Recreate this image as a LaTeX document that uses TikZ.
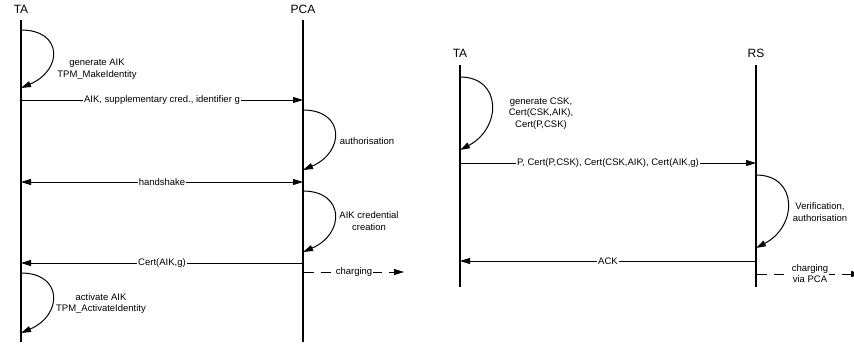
\documentclass[tikz,border=0pt]{standalone}
\usepackage{fontspec}
\setmainfont{Liberation Sans}
\usetikzlibrary{arrows.meta}
\begin{document}
\begin{tikzpicture}[x=1pt,y=-1pt,
  life/.style={line width=1.7pt},
  tip/.tip={Triangle[length=10pt,width=6pt]},
  msg/.style={line width=0.9pt,-tip},
  selfarc/.style={line width=1pt,-tip},
  lbl/.style={font=\fontsize{9.5}{11}\selectfont, fill=white, inner sep=1pt, align=center},
  note/.style={font=\fontsize{9.5}{11.5}\selectfont, align=center, inner sep=0pt},
  head/.style={font=\fontsize{12}{14}\selectfont, inner sep=0pt},
  chg/.style={line width=0.9pt, dash pattern=on 10pt off 7pt, -tip}
]
\useasboundingbox (0,0) rectangle (854,345);

% ---------- left diagram ----------
\node[head] (taL) at (21,9) {TA};
\node[head] (pca) at (303,9) {PCA};
\coordinate (taLt) at (21,20);  \coordinate (taLb) at (21,342);
\coordinate (pcat) at (303,20); \coordinate (pcab) at (303,342);
\draw[life] (taLt) -- (taLb);
\draw[life] (pcat) -- (pcab);

% generate AIK
\coordinate (a1s) at (21,30); \coordinate (a1e) at (21,88);
\draw[selfarc] (a1s) .. controls +(42,0) and +(42,-18) .. (a1e);
\node[note] (n1) at (97,69) {generate AIK\\TPM\_MakeIdentity};

% AIK message
\coordinate (m1a) at (21,100); \coordinate (m1b) at (303,100);
\draw[msg] (m1a) -- node[lbl] (l1) {AIK, supplementary cred., identifier g} (m1b);

% authorisation
\coordinate (a2s) at (303,110); \coordinate (a2e) at (303,170);
\draw[selfarc] (a2s) .. controls +(42,0) and +(42,-18) .. (a2e);
\node[note] (n2) at (367,141) {authorisation};

% handshake
\coordinate (m2a) at (21,182); \coordinate (m2b) at (303,182);
\draw[line width=0.9pt,tip-tip] (m2a) -- node[lbl] (l2) {handshake} (m2b);

% AIK credential creation
\coordinate (a3s) at (303,191); \coordinate (a3e) at (303,252);
\draw[selfarc] (a3s) .. controls +(42,0) and +(42,-18) .. (a3e);
\node[note] (n3) at (369,221) {AIK credential\\creation};

% Cert(AIK,g)
\coordinate (m3a) at (303,263); \coordinate (m3b) at (21,263);
\draw[msg] (m3a) -- node[lbl] (l3) {Cert(AIK,g)} (m3b);

% charging
\coordinate (c1a) at (304,272); \coordinate (c1b) at (404,272);
\draw[chg] (c1a) -- node[lbl] (l4) {charging} (c1b);

% activate AIK
\coordinate (a4s) at (21,273); \coordinate (a4e) at (21,333);
\draw[selfarc] (a4s) .. controls +(42,0) and +(42,-18) .. (a4e);
\node[note] (n4) at (101,303.5) {activate AIK\\TPM\_ActivateIdentity};

% ---------- right diagram ----------
\node[head] (taR) at (460,53) {TA};
\node[head] (rs) at (756,53) {RS};
\coordinate (taRt) at (460,65); \coordinate (taRb) at (460,287);
\coordinate (rst) at (756,65);  \coordinate (rsb) at (756,287);
\draw[life] (taRt) -- (taRb);
\draw[life] (rst) -- (rsb);

% generate CSK
\coordinate (b1s) at (460,77); \coordinate (b1e) at (460,150);
\draw[selfarc] (b1s) .. controls +(42,0) and +(42,-22) .. (b1e);
\node[note] (r1) at (541,113.5) {generate CSK,\\Cert(CSK,AIK),\\Cert(P,CSK)};

% P, Cert ...
\coordinate (r2a) at (460,163); \coordinate (r2b) at (756,163);
\draw[msg] (r2a) -- node[lbl] (rl1) {P, Cert(P,CSK), Cert(CSK,AIK), Cert(AIK,g)} (r2b);

% Verification
\coordinate (b2s) at (756,175); \coordinate (b2e) at (756,248);
\draw[selfarc] (b2s) .. controls +(42,0) and +(42,-22) .. (b2e);
\node[note] (r3) at (820,212) {Verification,\\authorisation};

% ACK
\coordinate (r4a) at (756,261); \coordinate (r4b) at (460,261);
\draw[msg] (r4a) -- node[lbl] (rl2) {ACK} (r4b);

% charging via PCA
\coordinate (c2a) at (757,274); \coordinate (c2b) at (861,274);
\draw[chg] (c2a) -- node[lbl, pos=0.51] (rl3) {charging\\via PCA} (c2b);
\end{tikzpicture}
\end{document}
